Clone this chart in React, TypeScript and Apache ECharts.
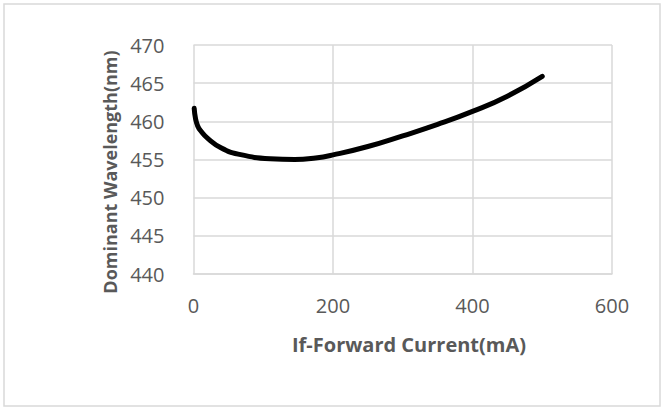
import React, { useEffect, useRef } from "react";
import * as echarts from "echarts";

const currentMA = [1, 3, 6, 10, 20, 40, 64, 110, 145, 175, 200, 250, 300, 350, 400, 450, 500];
const wavelengthNm = [461.7, 460.3, 459.4, 458.8, 457.8, 456.5, 455.7, 455.1, 455.0, 455.2, 455.6, 456.7, 458.1, 459.6, 461.3, 463.3, 465.9];
const xTitle = "If-Forward Current(mA)";
const yTitle = "Dominant Wavelength(nm)";

export default function App() {
  const ref = useRef<HTMLDivElement>(null);
  useEffect(() => {
    if (!ref.current) return;
    const chart = echarts.init(ref.current, null, { renderer: "svg" });
    const grey = "#595959";
    const gridC = "#d9d9d9";
    const font = "'Open Sans', 'Noto Sans', sans-serif";
    chart.setOption({
      animation: false,
      backgroundColor: "#ffffff",
      grid: { left: 193.5, top: 45, right: 52, bottom: 135, containLabel: false },
      xAxis: {
        type: "value",
        min: 0,
        max: 600,
        interval: 200,
        axisLine: { show: true, lineStyle: { color: gridC, width: 1.5 } },
        axisTick: { show: false },
        splitLine: { show: true, lineStyle: { color: gridC, width: 1.5 } },
        axisLabel: { color: grey, fontSize: 20, fontFamily: font, margin: 21 },
      },
      yAxis: {
        type: "value",
        min: 440,
        max: 470,
        interval: 5,
        axisLine: { show: false },
        axisTick: { show: false },
        splitLine: { show: true, lineStyle: { color: gridC, width: 1.5 } },
        axisLabel: { color: grey, fontSize: 20, fontFamily: font, margin: 29 },
      },
      graphic: [
        {
          type: "rect",
          shape: { x: 4, y: 4, width: 656, height: 402 },
          style: { fill: "none", stroke: gridC, lineWidth: 1.5 },
          silent: true,
        },
        {
          type: "text",
          x: 409,
          y: 344.5,
          style: {
            text: xTitle,
            fill: grey,
            font: `bold 20px ${font}`,
            textAlign: "center",
            textVerticalAlign: "middle",
          },
        },
        {
          type: "text",
          x: 110,
          y: 172,
          rotation: Math.PI / 2,
          style: {
            text: yTitle,
            fill: grey,
            font: `bold 18px ${font}`,
            textAlign: "center",
            textVerticalAlign: "middle",
          },
        },
      ],
      series: [
        {
          type: "line",
          data: currentMA.map((x, i) => [x, wavelengthNm[i]]),
          smooth: 0.5,
          showSymbol: false,
          symbol: "none",
          lineStyle: { color: "#000000", width: 5, cap: "round", join: "round" },
        },
      ],
    });
    return () => chart.dispose();
  }, []);
  return (
    <div
      ref={ref}
      style={{ position: "fixed", left: 0, top: 0, width: 664, height: 409, background: "#fff" }}
    />
  );
}
